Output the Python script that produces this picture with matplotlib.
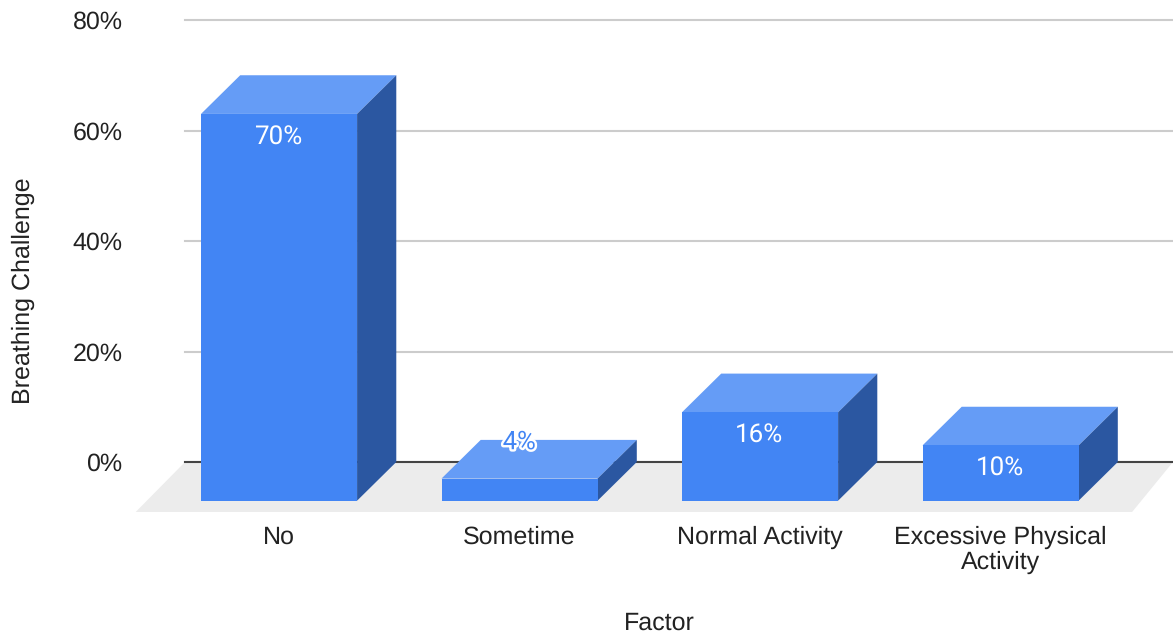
import matplotlib
matplotlib.use('Agg')
import matplotlib.pyplot as plt
import matplotlib.patheffects as pe

# Data
factors = ['No', 'Sometime', 'Normal Activity', 'Excessive Physical\nActivity']
values = [70, 4, 16, 10]
y_ticks = [0, 20, 40, 60, 80]
y_tick_labels = ['0%', '20%', '40%', '60%', '80%']

# Colours
front_color = '#4285f4'
top_color = '#659cf6'
side_color = '#2b57a1'
floor_color = '#ececec'
grid_color = '#cccccc'
text_color = '#222222'

plt.rcParams['font.family'] = ['Liberation Sans', 'DejaVu Sans']
plt.rcParams['text.hinting'] = 'no_hinting'
plt.rcParams['text.hinting_factor'] = 1

W, H = 1173, 635
fig = plt.figure(figsize=(W / 100, H / 100), dpi=100)

# axes = back wall of the 3D box
ax = fig.add_axes([185 / W, 1 - 462 / H, 988 / W, 442 / H])
ax.set_xlim(-0.391, 3.717)
ax.set_ylim(0, 80)
for s in ax.spines.values():
    s.set_visible(False)

# Oblique depth in data units
depth_x = 0.163
depth_y = 7.0
bar_w = 0.649
x = list(range(len(factors)))

# Floor
x0, x1 = ax.get_xlim()
ax.fill([x0, x1, x1 - 0.17, x0 - 0.205], [0, 0, -9.05, -9.05],
        color=floor_color, lw=0, zorder=1, clip_on=False)

# Grid and zero line
ax.set_axisbelow(True)
ax.yaxis.grid(True, color=grid_color, lw=1.5, zorder=0, clip_on=False)
ax.axhline(0, color='#444444', lw=1.5, zorder=2, clip_on=False)

# Bars: front face, top, right side
for xi, v in zip(x, values):
    left = xi - bar_w / 2
    right = xi + bar_w / 2
    ax.fill([left, right, right + depth_x, left + depth_x],
            [v - depth_y, v - depth_y, v, v],
            color=top_color, lw=0, zorder=3, clip_on=False)
    ax.fill([right, right + depth_x, right + depth_x, right],
            [-depth_y, 0, v, v - depth_y],
            color=side_color, lw=0, zorder=3, clip_on=False)
ax.bar(x, values, width=bar_w, bottom=-depth_y, color=front_color,
       lw=0, zorder=4, clip_on=False)

# Data labels
for xi, v in zip(x, values):
    label = f'{v}%'
    if v < 8:
        # no room on the front face, sits above the bar with a halo
        ax.text(xi, v - depth_y + 6.6, label, color=front_color, fontsize=18.4,
                family=['Roboto', 'DejaVu Sans'], ha='center', va='center', zorder=6,
                path_effects=[pe.withStroke(linewidth=3.5, foreground='white')])
    else:
        ax.text(xi - 0.004, v - depth_y - 4.2, label, color='white', fontsize=18.4,
                family=['Roboto', 'DejaVu Sans'], ha='center', va='center', zorder=6)

# Axes text
ax.set_yticks(y_ticks)
ax.set_yticklabels(y_tick_labels, fontsize=18, color=text_color)
ax.tick_params(axis='y', length=0, pad=45)
ax.set_xticks(x)
ax.set_xticklabels(factors, fontsize=18, color=text_color, linespacing=1.1)
ax.tick_params(axis='x', length=0, pad=46)

ax.set_xlabel('Factor', fontsize=18, color=text_color, va='center')
ax.xaxis.set_label_coords((659 - 185) / 988, -(623 - 462) / 442)
ax.set_ylabel('Breathing Challenge', fontsize=18, color=text_color, va='center')
ax.yaxis.set_label_coords((23 - 185) / 988, (462 - 291) / 442)

fig.savefig('out.png', dpi=100)
